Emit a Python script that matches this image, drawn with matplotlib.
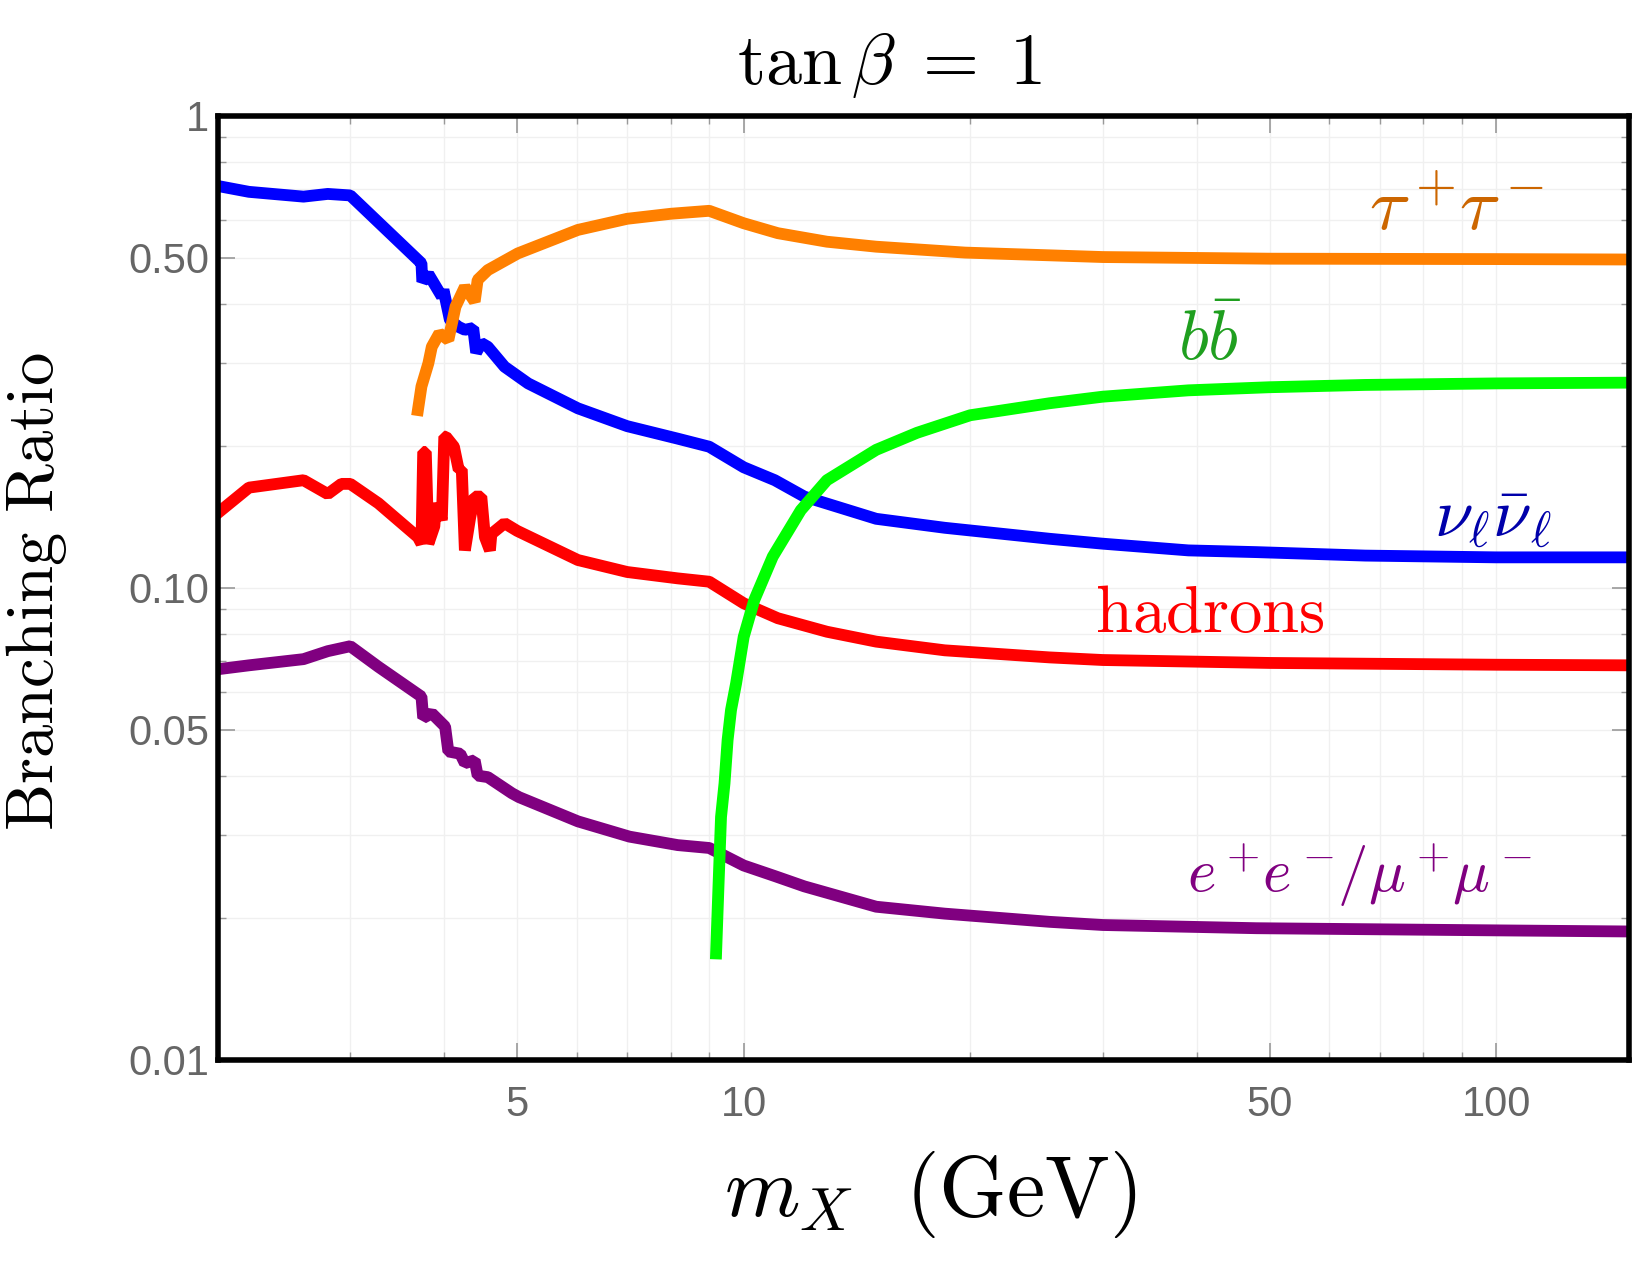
import matplotlib
matplotlib.use("Agg")
import matplotlib.pyplot as plt
from matplotlib.ticker import FixedLocator, FixedFormatter, NullFormatter, LogLocator

plt.rcParams['mathtext.fontset'] = 'cm'
plt.rcParams['font.family'] = ['Liberation Sans', 'DejaVu Sans']

# ---- data: m_X (GeV) and branching ratios ----
nu_m = [2.0, 2.2, 2.6, 2.8, 3.0, 3.69, 3.73, 3.74, 3.81, 3.97, 3.99, 4.07, 4.18, 4.26,
        4.37, 4.41, 4.48, 4.57, 4.81, 5.17, 6.02, 7.0, 8.17, 9.0, 10.0, 11.0, 12.04,
        15.0, 18.5, 25.5, 30.0, 39.0, 48.0, 67.0, 100.0, 150.0]
nu_br = [0.71, 0.69, 0.674, 0.683, 0.678, 0.495, 0.487, 0.445, 0.462, 0.414, 0.428, 0.369,
         0.357, 0.352, 0.355, 0.315, 0.330, 0.324, 0.294, 0.271, 0.240, 0.220, 0.207, 0.199,
         0.180, 0.169, 0.156, 0.140, 0.134, 0.127, 0.124, 0.120, 0.119, 0.117, 0.116, 0.116]

tau_m = [3.69, 3.73, 3.81, 3.85, 3.94, 4.05, 4.14, 4.26, 4.39, 4.43, 4.57, 5.01, 6.02,
         7.0, 8.0, 9.0, 10.0, 11.1, 12.9, 15.0, 19.7, 30.0, 50.0, 100.0, 150.0]
tau_br = [0.238, 0.267, 0.299, 0.324, 0.346, 0.335, 0.394, 0.434, 0.404, 0.449, 0.471,
          0.511, 0.573, 0.605, 0.620, 0.629, 0.592, 0.564, 0.541, 0.528, 0.513, 0.502,
          0.498, 0.497, 0.496]

bb_m = [9.19, 9.26, 9.33, 9.43, 9.52, 9.62, 9.77, 10.0, 10.33, 10.93, 11.91, 12.9, 15.0,
        17.0, 20.0, 25.5, 30.0, 39.0, 50.0, 67.0, 100.0, 150.0]
bb_br = [0.0168, 0.0236, 0.0327, 0.0385, 0.0476, 0.0551, 0.0627, 0.0787, 0.0942, 0.1164,
         0.146, 0.169, 0.196, 0.213, 0.232, 0.246, 0.254, 0.262, 0.266, 0.269, 0.271, 0.272]

had_m = [2.0, 2.2, 2.6, 2.8, 2.92, 3.0, 3.27, 3.69, 3.73, 3.75, 3.78, 3.81, 3.88, 3.90,
         3.97, 4.0, 4.02, 4.12, 4.18, 4.22, 4.26, 4.33, 4.39, 4.48, 4.53, 4.60, 4.62,
         4.81, 5.0, 6.02, 7.0, 8.17, 9.0, 10.0, 11.1, 12.9, 15.0, 18.5, 25.5, 30.0,
         50.0, 100.0, 150.0]
had_br = [0.144, 0.163, 0.169, 0.158, 0.166, 0.166, 0.151, 0.128, 0.124, 0.194, 0.194,
          0.124, 0.135, 0.151, 0.139, 0.209, 0.209, 0.199, 0.178, 0.178, 0.120, 0.141,
          0.156, 0.156, 0.128, 0.120, 0.130, 0.137, 0.132, 0.1145, 0.108, 0.1047, 0.103,
          0.0927, 0.0862, 0.0807, 0.0769, 0.0737, 0.0712, 0.0703, 0.0693, 0.0687, 0.0685]

ll_m = [2.0, 2.2, 2.6, 2.8, 3.0, 3.27, 3.73, 3.75, 3.85, 4.01, 4.05, 4.20, 4.26, 4.39,
        4.43, 4.57, 4.92, 5.03, 6.02, 7.05, 8.17, 9.0, 10.0, 11.0, 12.04, 15.0, 18.5,
        25.5, 30.0, 48.0, 100.0, 150.0]
ll_br = [0.0672, 0.0685, 0.0706, 0.0734, 0.0752, 0.068, 0.0588, 0.0530, 0.0542, 0.0508,
         0.0450, 0.0445, 0.0425, 0.0431, 0.0400, 0.0397, 0.0367, 0.0360, 0.0320, 0.0297,
         0.0285, 0.0281, 0.0258, 0.0245, 0.0233, 0.0211, 0.0204, 0.0196, 0.0193, 0.0190,
         0.0188, 0.0187]

y_ticks = [0.01, 0.05, 0.10, 0.50, 1.0]
y_labels = ["0.01", "0.05", "0.10", "0.50", "1"]
x_ticks = [5, 10, 50, 100]
x_labels = ["5", "10", "50", "100"]

fig = plt.figure(figsize=(16.5, 12.75), dpi=100)
ax = fig.add_axes([0.132, 0.1688, 0.855, 0.7404])

lw = 8.5
js = 'bevel'
ax.plot(had_m, had_br, color='#ff0000', lw=lw, solid_joinstyle=js, zorder=3)
ax.plot(ll_m, ll_br, color='#800080', lw=lw, solid_joinstyle=js, zorder=3)
ax.plot(nu_m, nu_br, color='#0000ff', lw=lw, solid_joinstyle=js, zorder=4)
ax.plot(tau_m, tau_br, color='#ff8000', lw=lw, solid_joinstyle=js, zorder=5)
ax.plot(bb_m, bb_br, color='#00ff00', lw=lw, solid_joinstyle=js, zorder=6)

ax.set_xscale('log')
ax.set_yscale('log')
ax.set_xlim(2, 150)
ax.set_ylim(0.01, 1)

ax.yaxis.set_major_locator(FixedLocator(y_ticks))
ax.yaxis.set_major_formatter(FixedFormatter(y_labels))
ax.xaxis.set_major_locator(FixedLocator(x_ticks))
ax.xaxis.set_major_formatter(FixedFormatter(x_labels))
ax.xaxis.set_minor_locator(LogLocator(base=10, subs=range(1, 10)))
ax.yaxis.set_minor_locator(LogLocator(base=10, subs=range(1, 10)))
ax.xaxis.set_minor_formatter(NullFormatter())
ax.yaxis.set_minor_formatter(NullFormatter())

ax.grid(True, which='both', color='#f0f0f0', lw=1.0, zorder=0)
ax.tick_params(which='both', direction='in', top=True, right=True,
               colors='#999999', labelcolor='#666666', labelsize=30)
ax.tick_params(which='major', length=12, width=1.2)
ax.tick_params(which='minor', length=6, width=1.0)
ax.tick_params(axis='x', which='major', pad=18)
ax.tick_params(axis='y', which='major', pad=6)
for s in ax.spines.values():
    s.set_linewidth(4)
    s.set_color('black')
    s.set_zorder(10)

# curve labels
ax.text(0.878, 0.900, r'$\tau^+\!\tau^-$', transform=ax.transAxes, color='#cc6600',
        fontsize=54, ha='center', va='center')
ax.text(0.703, 0.761, r'$b\bar{b}$', transform=ax.transAxes, color='#1f9f1f',
        fontsize=50, ha='center', va='center')
ax.text(0.904, 0.574, r'$\nu_\ell\bar{\nu}_\ell$', transform=ax.transAxes, color='#0000aa',
        fontsize=50, ha='center', va='center')
ax.text(0.703, 0.471, r'$\mathrm{hadrons}$', transform=ax.transAxes, color='#ff0000',
        fontsize=48, ha='center', va='center')
ax.text(0.809, 0.195, r'$e^+\!e^-\!/\mu^+\!\mu^-$', transform=ax.transAxes, color='#800080',
        fontsize=44, ha='center', va='center')

fig.text(0.539, 0.949, r'$\tan\beta\;=\;1$', fontsize=52, ha='center', va='center')
fig.text(0.022, 0.536, r'$\mathrm{Branching\ Ratio}$', fontsize=48, ha='center',
         va='center', rotation=90)
fig.text(0.564, 0.0635, r'$m_X\ \ (\mathrm{GeV})$', fontsize=62, ha='center', va='center')

fig.savefig('out.png', dpi=100)
